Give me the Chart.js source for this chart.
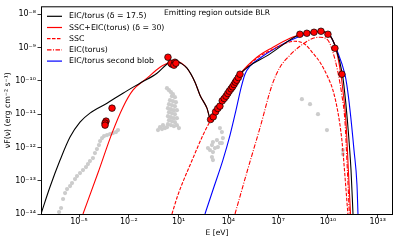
<!DOCTYPE html>
<html>
<head>
<meta charset="utf-8">
<script src="https://cdn.jsdelivr.net/npm/chart.js@4.4.1/dist/chart.umd.min.js"></script>
<style>
  html, body { margin: 0; padding: 0; background: #fff; }
  #wrap { width: 399px; height: 242px; }
</style>
</head>
<body>
<div id="wrap"><canvas id="sed"></canvas></div>
<script>
// every pair is [log10 E (eV), log10 nuF(nu) (erg cm^-2 s^-1)]
const xTicks = [-5, -2, 1, 4, 7, 10, 13];
const yTicks = [-14, -13, -12, -11, -10, -9, -8];
const xRange = [-7.29, 13.92];
const yRange = [-14, -7.76];

const eicTorus = [
  [-7.29,-14.0],[-6.75,-13.19],[-6.14,-12.38],[-5.54,-11.69],[-4.94,-11.24],[-4.34,-10.97],
  [-3.31,-10.67],[-2.35,-10.37],[-1.33,-10.07],[-0.30,-9.77],[0.36,-9.47],[0.72,-9.38],
  [1.14,-9.47],[1.51,-9.62],[1.99,-10.04],[2.29,-10.43],[2.71,-10.82],[2.92,-11.13],
  [3.09,-11.05],[3.36,-10.83],[3.75,-10.53],[4.16,-10.24],[4.70,-9.80],[6.51,-9.19],
  [8.31,-8.60],[9.00,-8.53],[9.52,-8.51],[10.06,-8.60],[10.48,-9.02],[10.87,-9.80],
  [10.96,-10.13],[11.17,-11.18],[11.39,-12.68],[11.51,-14.0]
];
const sscEic = [
  [-4.76,-14.0],[-3.86,-12.77],[-3.01,-11.57],[-2.35,-10.79],[-1.75,-10.28],[-0.90,-9.92],
  [-0.12,-9.59],[0.48,-9.44],[0.78,-9.38],[1.14,-9.46],[1.51,-9.62],[1.99,-10.04],
  [2.29,-10.43],[2.71,-10.82],[2.92,-11.13],[3.09,-11.05],[3.36,-10.83],[3.75,-10.53],
  [4.16,-10.24],[4.70,-9.80],[5.72,-9.29],[6.69,-8.99],[7.71,-8.72],[8.31,-8.62],
  [9.00,-8.53],[9.52,-8.52],[10.00,-8.60],[10.42,-8.93],[10.78,-9.80],[10.90,-10.28],
  [11.08,-11.18],[11.23,-12.68],[11.36,-14.0]
];
const ssc = [
  [0.60,-14.0],[0.96,-13.43],[1.87,-12.32],[2.47,-11.63],[2.92,-11.20],[3.36,-10.86],
  [3.75,-10.55],[4.16,-10.26],[4.70,-9.82],[5.72,-9.32],[6.69,-9.05],[7.40,-8.88],
  [8.01,-8.81],[8.61,-8.90],[9.10,-9.17],[9.52,-9.44],[9.94,-9.83],[10.30,-10.28],
  [10.60,-10.94],[10.84,-11.78],[11.02,-12.83],[11.20,-14.0]
];
const eicOnly = [
  [4.40,-14.0],[5.12,-12.74],[5.90,-11.42],[6.63,-10.13],[7.11,-9.59],[7.71,-9.23],
  [8.31,-8.96],[9.10,-8.72],[9.52,-8.69],[10.00,-8.78],[10.30,-9.14],[10.60,-9.74],
  [10.84,-10.43],[11.02,-11.18],[11.17,-12.68],[11.29,-14.0]
];
const secondBlob = [
  [2.59,-14.0],[3.13,-13.19],[3.67,-12.38],[4.10,-11.63],[4.46,-10.88],[4.76,-10.22],
  [5.00,-9.80],[5.30,-9.56],[5.72,-9.38],[6.93,-8.99],[8.31,-8.66],[8.92,-8.57],
  [9.52,-8.51],[9.82,-8.54],[10.12,-8.63],[10.54,-9.08],[11.02,-9.80],[11.14,-10.13],
  [11.33,-10.88],[11.57,-12.08],[11.75,-13.13],[11.81,-14.0]
];

// flaring-state measurements (red circles)
const flareData = [
  [-3.01,-10.82],[-3.37,-11.21],[-3.43,-11.27],[-3.43,-11.33],
  [0.36,-9.29],[0.60,-9.50],[0.54,-9.47],[0.78,-9.44],[0.72,-9.53],[0.84,-9.47],
  [2.93,-11.16],[3.09,-11.08],[3.23,-10.93],[3.36,-10.83],[3.49,-10.76],[3.63,-10.60],
  [3.75,-10.53],[3.86,-10.46],[3.96,-10.38],[4.05,-10.31],[4.16,-10.24],[4.25,-10.18],
  [4.34,-10.11],[4.42,-10.04],[4.50,-9.98],[4.60,-9.90],[4.70,-9.80],
  [8.31,-8.60],[8.73,-8.57],[9.16,-8.54],[9.58,-8.51],[10.00,-8.60],[10.42,-9.02],[10.84,-9.80]
];
// archival measurements (grey)
const archiveData = [
  [-6.20,-13.94],[-6.08,-13.82],[-5.96,-13.55],[-5.84,-13.37],[-5.72,-13.25],[-5.54,-13.16],
  [-5.42,-13.07],[-5.24,-12.95],[-5.12,-12.86],[-4.94,-12.77],[-4.76,-12.68],[-4.58,-12.59],
  [-4.46,-12.50],[-4.34,-12.41],[-4.16,-12.32],[-4.04,-12.17],[-3.92,-12.05],[-3.80,-11.93],
  [-3.73,-11.81],[-3.61,-11.72],[-3.49,-11.66],[-3.31,-11.63],[-3.13,-11.60],[-2.95,-11.57],
  [-2.77,-11.54],[-2.65,-11.48],
  [0.30,-10.22],[0.42,-10.28],[0.54,-10.34],[0.66,-10.40],[0.60,-10.46],[0.78,-10.49],
  [0.48,-10.58],[0.66,-10.61],[0.84,-10.64],[0.42,-10.70],[0.60,-10.73],[0.78,-10.76],
  [0.36,-10.82],[0.54,-10.85],[0.72,-10.88],[0.90,-10.88],[0.42,-10.94],[0.60,-10.97],
  [0.78,-11.00],[0.36,-11.06],[0.54,-11.09],[0.72,-11.12],[0.90,-11.12],[0.42,-11.18],
  [0.60,-11.21],[0.78,-11.24],[0.36,-11.30],[0.54,-11.33],[0.72,-11.36],[0.90,-11.33],
  [-0.12,-11.39],[0.06,-11.33],[0.18,-11.42],[0.30,-11.39],[1.02,-11.42],[-0.24,-11.48],[0.00,-11.45],
  [3.49,-11.42],[3.61,-11.54],[3.67,-11.72],[3.61,-11.87],[3.31,-11.78],[3.07,-11.84],
  [3.01,-11.93],[2.77,-12.02],[2.89,-12.08],[3.07,-12.14],[3.01,-12.29],[3.07,-12.38],
  [3.37,-11.99],[3.49,-11.87],[3.19,-12.02],
  [8.43,-10.55],[8.92,-10.70],[9.40,-11.00],[9.94,-11.48],[10.90,-12.08],[10.90,-12.20]
];

const toPts = arr => arr.map(([e, f]) => ({ x: 10 ** e, y: 10 ** f }));

const SUP = { '-': '\u207B', '0': '\u2070', '1': '\u00B9', '2': '\u00B2', '3': '\u00B3',
  '4': '\u2074', '5': '\u2075', '6': '\u2076', '7': '\u2077', '8': '\u2078', '9': '\u2079' };
const pow10 = n => '10' + String(n).split('').map(c => SUP[c]).join('');
const FONT = "'DejaVu Sans', sans-serif";

function curve(label, data, color, dash) {
  return {
    label: label,
    data: toPts(data),
    showLine: true,
    borderColor: color,
    borderWidth: 1.1,
    borderDash: dash || [],
    pointRadius: 0,
    cubicInterpolationMode: 'monotone',
    fill: false
  };
}

const framePlugin = {
  id: 'frame',
  afterDraw(chart) {
    const { ctx, chartArea: a } = chart;
    ctx.save();
    ctx.strokeStyle = '#000';
    ctx.lineWidth = 1;
    ctx.strokeRect(a.left + 0.5, a.top + 0.5, a.right - a.left - 1, a.bottom - a.top);
    ctx.restore();
  }
};

const legendPlugin = {
  id: 'boxLegend',
  afterDatasetsDraw(chart) {
    const { ctx, chartArea: a } = chart;
    ctx.save();
    ctx.font = '7.8px ' + FONT;
    ctx.textBaseline = 'middle';
    ctx.fillStyle = '#000';
    let y = a.top + 10;
    chart.data.datasets.filter(d => d.label).forEach(d => {
      ctx.strokeStyle = d.borderColor;
      ctx.lineWidth = 1.2;
      ctx.setLineDash(d.borderDash);
      ctx.beginPath();
      ctx.moveTo(a.left + 6, y);
      ctx.lineTo(a.left + 21, y);
      ctx.stroke();
      ctx.setLineDash([]);
      ctx.fillText(d.label, a.left + 28, y);
      y += 11.2;
    });
    ctx.font = '7.6px ' + FONT;
    ctx.textAlign = 'center';
    ctx.fillText('Emitting region outside BLR', (a.left + a.right) / 2, a.top + 7);
    ctx.restore();
  }
};

new Chart(document.getElementById('sed'), {
  type: 'scatter',
  data: {
    datasets: [
      { data: toPts(flareData), pointRadius: 3.3, backgroundColor: '#ff0000',
        borderColor: '#000', borderWidth: 0.7 },
      curve('EIC/torus (\u03B4 = 17.5)', eicTorus, '#000000'),
      curve('SSC+EIC(torus) (\u03B4 = 30)', sscEic, '#ff0000'),
      curve('SSC', ssc, '#ff0000', [3.5, 1.5]),
      curve('EIC(torus)', eicOnly, '#ff0000', [4.5, 1.5, 1, 1.5]),
      curve('EIC/torus second blob', secondBlob, '#0000ff'),
      { data: toPts(archiveData), pointRadius: 2.1, backgroundColor: '#cccccc', borderWidth: 0 }
    ]
  },
  options: {
    responsive: true,
    maintainAspectRatio: false,
    animation: false,
    devicePixelRatio: 1,
    events: [],
    layout: { padding: { top: 6, right: 6, left: 0, bottom: 0 } },
    plugins: { legend: { display: false }, tooltip: { enabled: false } },
    scales: {
      x: {
        type: 'logarithmic',
        min: 10 ** xRange[0], max: 10 ** xRange[1],
        afterFit: s => { s.height = 28; },
        afterBuildTicks: s => { s.ticks = xTicks.map(e => ({ value: 10 ** e })); },
        grid: { drawOnChartArea: false, tickLength: 3.5, tickColor: '#000', tickWidth: 0.8 },
        border: { display: false },
        ticks: { autoSkip: false, maxRotation: 0, padding: 0, color: '#000',
          font: { family: FONT, size: 8 },
          callback: v => pow10(Math.round(Math.log10(v))) },
        title: { display: true, text: 'E [eV]', color: '#000',
          font: { family: FONT, size: 7.6 }, padding: { top: 0, bottom: 4 } }
      },
      y: {
        type: 'logarithmic',
        min: 10 ** yRange[0], max: 10 ** yRange[1],
        afterFit: s => { s.width = 41; },
        afterBuildTicks: s => { s.ticks = yTicks.map(e => ({ value: 10 ** e })); },
        grid: { drawOnChartArea: false, tickLength: 3.5, tickColor: '#000', tickWidth: 0.8 },
        border: { display: false },
        ticks: { autoSkip: false, padding: 1.5, color: '#000',
          font: { family: FONT, size: 8 },
          callback: v => pow10(Math.round(Math.log10(v))) },
        title: { display: true, text: '\u03BDF(\u03BD) (erg cm\u207B\u00B2 s\u207B\u00B9)', color: '#000',
          font: { family: FONT, size: 7.8 }, padding: { top: 3, bottom: 0 } }
      }
    }
  },
  plugins: [framePlugin, legendPlugin]
});
</script>
</body>
</html>
